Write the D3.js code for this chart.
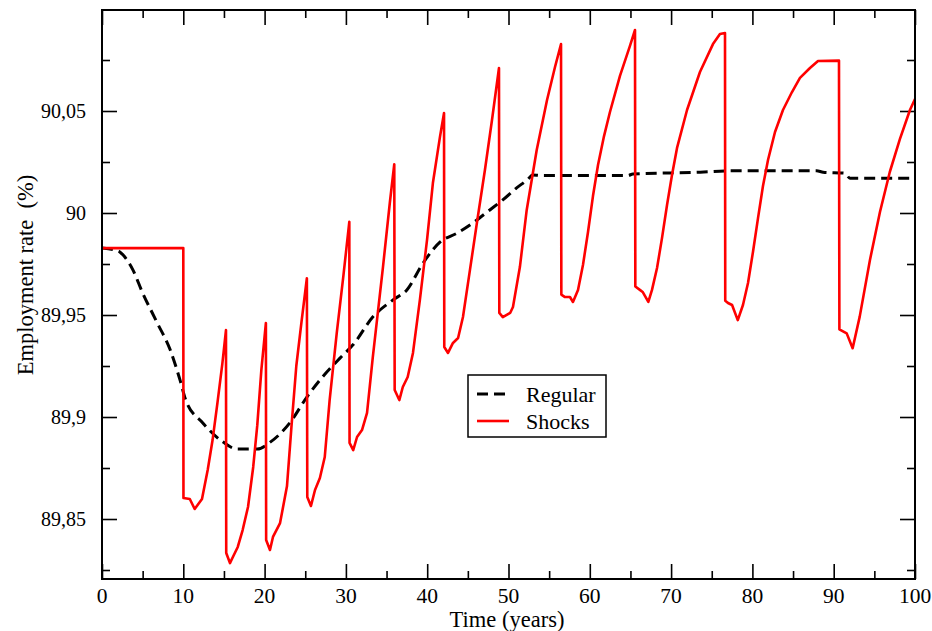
<!DOCTYPE html>
<html>
<head>
<meta charset="utf-8">
<script src="https://cdn.jsdelivr.net/npm/d3@7"></script>
<style>
  body { margin: 0; background: #fff; }
  text { font-family: "Liberation Serif", "Times New Roman", serif; }
</style>
</head>
<body>
<div id="chart"></div>
<script>

// ---------------- data ----------------
var regularTime = [0, 2.0, 2.6, 3.8, 5.0, 6.8, 8.4, 9.6, 10.3, 12.4, 14.9, 16.6, 19.1, 20.7,
  23.1, 25.2, 27.2, 29.3, 30.9, 33.3, 35.8, 37.5, 39.5, 41.6, 43.7, 45.6, 47.7, 49.3, 51.0,
  52.3, 53.0, 53.9, 64.7, 65.3, 73.6, 77.6, 87.9, 88.7, 91.4, 92.0, 100];
var regularValue = [89.9828, 89.9814, 89.9794, 89.9721, 89.9608, 89.9461, 89.9328, 89.9181,
  89.9083, 89.8971, 89.8877, 89.8843, 89.8843, 89.8877, 89.8971, 89.9098, 89.9200, 89.9290,
  89.9355, 89.9490, 89.9574, 89.9623, 89.9755, 89.9858, 89.9902, 89.9951, 90.0015, 90.0064,
  90.0123, 90.0162, 90.0186, 90.0184, 90.0184, 90.0191, 90.0200, 90.0207, 90.0207, 90.0200,
  90.0195, 90.0170, 90.0170];

var shockTime = [0, 10.0,
  10.02, 10.8, 11.4, 12.3, 13.0, 13.6, 14.2, 14.8, 15.25,
  15.28, 15.74, 16.1, 16.7, 17.3, 17.96, 18.6, 19.1, 19.6, 20.16,
  20.19, 20.66, 21.03, 21.9, 22.75, 23.3, 23.9, 24.55, 25.2,
  25.25, 25.7, 26.2, 26.8, 27.4, 28.0, 28.87, 29.68, 30.42,
  30.45, 30.9, 31.37, 31.98, 32.6, 33.3, 34.56, 35.4, 35.95,
  36.0, 36.57, 37.0, 37.6, 38.25, 39.1, 39.98, 40.7, 41.57, 42.07,
  42.1, 42.56, 43.17, 43.8, 44.4, 45.26, 46.13, 47.1, 47.97, 48.83,
  48.87, 49.3, 50.2, 50.55, 51.4, 52.24, 53.47, 54.74, 55.72, 56.46,
  56.5, 56.95, 57.56, 57.93, 58.55, 59.16, 59.78, 60.39, 61.01, 61.75, 62.48, 63.71, 64.94, 65.56,
  65.6, 66.2, 66.5, 67.2, 67.65, 68.27, 68.88, 69.5, 70.11, 70.73, 71.96, 73.55, 75.15, 76.01, 76.63,
  76.66, 77.0, 77.5, 78.2, 78.84, 79.46, 80.07, 80.69, 81.3, 81.92, 82.78, 83.76, 84.87, 85.85,
  87.08, 88.07, 90.65,
  90.7, 91.2, 91.6, 92.33, 93.2, 94.46, 95.69, 96.9, 98.15, 99.38, 100];
var shockValue = [89.9828, 89.9828,
  89.8603, 89.8598, 89.8549, 89.8598, 89.8740, 89.8887, 89.9069, 89.9260, 89.9426,
  89.8333, 89.8284, 89.8314, 89.8363, 89.8446, 89.8559, 89.8755, 89.8960, 89.9230, 89.9461,
  89.8397, 89.8348, 89.8412, 89.8480, 89.8660, 89.8950, 89.9250, 89.9470, 89.9680,
  89.8608, 89.8564, 89.8642, 89.8701, 89.8804, 89.9083, 89.9410, 89.9688, 89.9957,
  89.8873, 89.8838, 89.8902, 89.8936, 89.9020, 89.9290, 89.9735, 90.0049, 90.0239,
  89.9132, 89.9083, 89.9147, 89.9196, 89.9314, 89.9574, 89.9868, 90.0147, 90.0373, 90.0490,
  89.9343, 89.9314, 89.9363, 89.9387, 89.9490, 89.9721, 89.9956, 90.0211, 90.0456, 90.0711,
  89.9510, 89.9490, 89.9510, 89.9539, 89.9735, 90.0015, 90.0309, 90.0554, 90.0716, 90.0828,
  89.9600, 89.9588, 89.9588, 89.9564, 89.9623, 89.9745, 89.9907, 90.0083, 90.0235, 90.0377, 90.0495, 90.0672, 90.0819, 90.0897,
  89.9640, 89.9622, 89.9613, 89.9564, 89.9623, 89.9730, 89.9877, 90.0039, 90.0186, 90.0319, 90.0505, 90.0691, 90.0828, 90.0877, 90.0882,
  89.9570, 89.9559, 89.9549, 89.9475, 89.9549, 89.9657, 89.9809, 89.9975, 90.0132, 90.0260, 90.0397, 90.0505, 90.0593, 90.0662,
  90.0711, 90.0745, 90.0747,
  89.9430, 89.9419, 89.9410, 89.9337, 89.9492, 89.9770, 90.0005, 90.0201, 90.0363, 90.0505, 90.0559];

var xTicks = [0, 10, 20, 30, 40, 50, 60, 70, 80, 90, 100];
var yTicks = [89.85, 89.9, 89.95, 90, 90.05];
var yTickLabels = ["89,85", "89,9", "89,95", "90", "90,05"];
var seriesNames = ["Regular", "Shocks"];

// ---------------- layout ----------------
var attrs = {
  width: 932,
  height: 631,
  left: 102,
  right: 915,
  top: 10,
  bottom: 579,
  majorTick: 15,
  minorTick: 8,
  tickFont: 21.5,
  yTickFont: 20,
  titleFont: 22.5,
  legendFont: 22
};

var svg = d3.select('#chart').append('svg')
  .attr('width', attrs.width)
  .attr('height', attrs.height);

var x = d3.scaleLinear().domain([0, 100]).range([attrs.left, attrs.right]);
var y = d3.scaleLinear().domain([89.82059, 90.09951]).range([attrs.bottom, attrs.top]);

var plotW = attrs.right - attrs.left;
var plotH = attrs.bottom - attrs.top;

svg.append('clipPath').attr('id', 'plot-clip')
  .append('rect')
  .attr('x', attrs.left).attr('y', attrs.top)
  .attr('width', plotW).attr('height', plotH);

// inward ticks on all four sides
var xMinor = d3.range(5, 100, 10);
var yMinor = [89.825, 89.875, 89.925, 89.975, 90.025, 90.075];

function tickAxis(axisFn, scale, values, size) {
  return axisFn(scale).tickValues(values).tickSize(size).tickFormat('');
}

var axes = [
  { fn: d3.axisTop, tr: 'translate(0,' + attrs.bottom + ')', s: x, major: xTicks, minor: xMinor },
  { fn: d3.axisBottom, tr: 'translate(0,' + attrs.top + ')', s: x, major: xTicks, minor: xMinor },
  { fn: d3.axisRight, tr: 'translate(' + attrs.left + ',0)', s: y, major: yTicks, minor: yMinor },
  { fn: d3.axisLeft, tr: 'translate(' + attrs.right + ',0)', s: y, major: yTicks, minor: yMinor }
];

axes.forEach(function (a) {
  [[a.major, attrs.majorTick], [a.minor, attrs.minorTick]].forEach(function (m) {
    var g = svg.append('g').attr('transform', a.tr)
      .call(tickAxis(a.fn, a.s, m[0], m[1]));
    g.select('.domain').remove();
    g.selectAll('line').attr('stroke', '#000').attr('stroke-width', 1.6);
  });
});

// tick labels
svg.append('g').selectAll('text')
  .data(xTicks)
  .enter().append('text')
  .attr('x', function (d) { return x(d); })
  .attr('y', attrs.bottom + 24)
  .attr('text-anchor', 'middle')
  .attr('font-size', attrs.tickFont)
  .text(function (d) { return d; });

svg.append('g').selectAll('text')
  .data(yTicks)
  .enter().append('text')
  .attr('x', 86)
  .attr('y', function (d) { return y(d); })
  .attr('dy', '0.35em')
  .attr('text-anchor', 'end')
  .attr('font-size', attrs.yTickFont)
  .text(function (d, i) { return yTickLabels[i]; });

// axis titles
svg.append('text')
  .attr('x', 507).attr('y', 627)
  .attr('text-anchor', 'middle')
  .attr('font-size', attrs.titleFont)
  .text('Time (years)');

svg.append('text')
  .attr('transform', 'translate(33,275) rotate(-90)')
  .attr('text-anchor', 'middle')
  .attr('font-size', attrs.titleFont)
  .style('white-space', 'pre')
  .text('Employment rate  (%)');

// series
var line = d3.line()
  .x(function (d) { return x(d[0]); })
  .y(function (d) { return y(d[1]); });

var regular = d3.zip(regularTime, regularValue);
var shocks = d3.zip(shockTime, shockValue);

var plot = svg.append('g').attr('clip-path', 'url(#plot-clip)');

plot.append('path')
  .datum(regular)
  .attr('d', line.curve(d3.curveMonotoneX))
  .attr('fill', 'none')
  .attr('stroke', '#000')
  .attr('stroke-width', 3)
  .attr('stroke-dasharray', '11,6');

plot.append('path')
  .datum(shocks)
  .attr('d', line.curve(d3.curveLinear))
  .attr('fill', 'none')
  .attr('stroke', '#ff0000')
  .attr('stroke-width', 2.6)
  .attr('stroke-linejoin', 'round');

// frame
svg.append('rect')
  .attr('x', attrs.left).attr('y', attrs.top)
  .attr('width', plotW).attr('height', plotH)
  .attr('fill', 'none')
  .attr('stroke', '#000')
  .attr('stroke-width', 2);

// legend
var legend = svg.append('g').attr('transform', 'translate(468,375)');
legend.append('rect')
  .attr('width', 138).attr('height', 62)
  .attr('fill', '#fff')
  .attr('stroke', '#000')
  .attr('stroke-width', 1.5);

var legendStyles = [
  { stroke: '#000', width: 3, dash: '11,6' },
  { stroke: '#ff0000', width: 2.6, dash: null }
];

var items = legend.selectAll('.item')
  .data(seriesNames)
  .enter().append('g')
  .attr('class', 'item')
  .attr('transform', function (d, i) { return 'translate(0,' + (19 + i * 27) + ')'; });

items.append('line')
  .attr('x1', 9).attr('x2', 41)
  .attr('stroke', function (d, i) { return legendStyles[i].stroke; })
  .attr('stroke-width', function (d, i) { return legendStyles[i].width; })
  .attr('stroke-dasharray', function (d, i) { return legendStyles[i].dash; });

items.append('text')
  .attr('x', 58)
  .attr('dy', '0.35em')
  .attr('font-size', attrs.legendFont)
  .text(function (d) { return d; });

</script>
</body>
</html>
